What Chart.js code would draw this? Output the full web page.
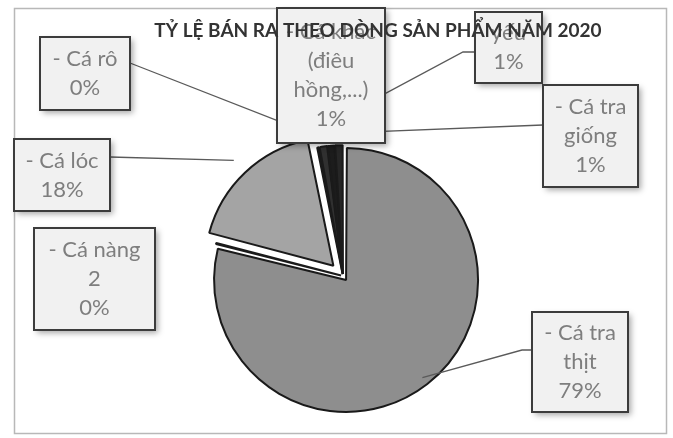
<!DOCTYPE html>
<html><head><meta charset="utf-8">
<script src="https://cdn.jsdelivr.net/npm/chart.js@4.4.1/dist/chart.umd.min.js"></script>
<style>html,body{margin:0;padding:0;background:#fff;}#wrap{width:673px;height:438px;position:relative;}</style>
</head><body><div id="wrap"><canvas id="c"></canvas></div>
<script>
// ---- data ----
const TITLE = "TỶ LỆ BÁN RA THEO DÒNG SẢN PHẨM NĂM 2020";
const categories = [
  ["- Cá tra", "thịt"],
  ["- Cá nàng", "2"],
  ["- Cá lóc"],
  ["- Cá rô"],
  ["- Cá khác", "(điêu", "hồng,...)"],
  ["yếu"],
  ["- Cá tra", "giống"]
];
const shares = [78.9, 0.2, 17.7, 0.3, 1.0, 0.9, 1.0];

// ---- styles / layout ----
const sliceColors = ["#8e8e8e", "#9c9c9c", "#a4a4a4", "#3e3e3e", "#303030", "#1c1c1c", "#262626"];
const sliceOffsets = [20, 8, 56, 8, 8, 8, 8];
// label boxes: x, y, w, h ; anchor = where the leader line leaves the box (null = no line)
const labelBoxes = [
  {x: 532, y: 312, w: 96, h: 100, ax: 532, ay: 350, stub: 10, extra: -8},
  {x: 34, y: 228, w: 121, h: 102, ax: null},
  {x: 14, y: 139, w: 96, h: 72, ax: 110, ay: 157, extra: 4},
  {x: 40, y: 37, w: 90, h: 73, ax: 130, ay: 63, extra: 12},
  {x: 277, y: 8, w: 108, h: 135, ax: null},
  {x: 475, y: 12, w: 67, h: 71, ax: 475, ay: 52, stub: 12, extra: 22},
  {x: 543, y: 85, w: 95, h: 102, ax: 543, ay: 125, extra: 12}
];
const LABEL_FONT = "22px Lato, 'Open Sans', sans-serif";
const LINE_H = 29;

const total = shares.reduce((a, b) => a + b, 0);

const labelPlugin = {
  id: 'labels',
  beforeDraw(chart) {
    const ctx = chart.ctx;
    ctx.save();
    ctx.fillStyle = '#fff';
    ctx.fillRect(0, 0, chart.width, chart.height);
    ctx.strokeStyle = '#b8b8b8';
    ctx.lineWidth = 1.5;
    ctx.strokeRect(14.5, 8.5, 652, 425);
    ctx.restore();
  },
  afterDraw(chart) {
    const ctx = chart.ctx;
    const meta = chart.getDatasetMeta(0);
    ctx.save();
    // leader lines
    ctx.strokeStyle = '#5a5a5a';
    ctx.lineWidth = 1.3;
    labelBoxes.forEach((b, i) => {
      if (b.ax === null) return;
      const el = meta.data[i];
      const p = el.getProps(['x', 'y', 'startAngle', 'endAngle', 'outerRadius']);
      const mid = (p.startAngle + p.endAngle) / 2;
      const off = (sliceOffsets[i] || 0) / 4;
      const r = p.outerRadius + off + b.extra;
      const tx = p.x + Math.cos(mid) * (r + off);
      const ty = p.y + Math.sin(mid) * (r + off);
      ctx.beginPath();
      ctx.moveTo(b.ax, b.ay);
      if (b.stub) ctx.lineTo(b.ax - b.stub, b.ay);
      ctx.lineTo(tx, ty);
      ctx.stroke();
    });
    // boxes
    labelBoxes.forEach((b, i) => {
      ctx.save();
      ctx.shadowColor = 'rgba(0,0,0,0.35)';
      ctx.shadowBlur = 6;
      ctx.shadowOffsetX = 3;
      ctx.shadowOffsetY = 3;
      ctx.fillStyle = '#f1f1f1';
      ctx.fillRect(b.x, b.y, b.w, b.h);
      ctx.restore();
      ctx.strokeStyle = '#3c3c3c';
      ctx.lineWidth = 2;
      ctx.strokeRect(b.x, b.y, b.w, b.h);
      const lines = categories[i].concat([Math.round(shares[i] / total * 100) + '%']);
      ctx.fillStyle = '#7e7e7e';
      ctx.font = LABEL_FONT;
      ctx.textAlign = 'center';
      ctx.textBaseline = 'middle';
      const cx = b.x + b.w / 2;
      const y0 = b.y + b.h / 2 - (lines.length - 1) * LINE_H / 2;
      lines.forEach((t, k) => ctx.fillText(t, cx, y0 + k * LINE_H));
    });
    // title
    ctx.font = "bold 19px Lato, 'Open Sans', sans-serif";
    ctx.fillStyle = '#333333';
    ctx.textAlign = 'center';
    ctx.textBaseline = 'middle';
    ctx.fillText(TITLE, 378, 31);
    ctx.restore();
  }
};

new Chart(document.getElementById('c'), {
  type: 'pie',
  data: {
    labels: categories,
    datasets: [{
      data: shares,
      backgroundColor: sliceColors,
      borderColor: '#1a1a1a',
      borderWidth: 2,
      offset: sliceOffsets,
      hoverOffset: 0,
      clip: false
    }]
  },
  options: {
    responsive: true,
    maintainAspectRatio: false,
    animation: false,
    radius: 127,
    layout: {padding: {left: 200, right: 187, top: 130, bottom: 16}},
    plugins: {legend: {display: false}, tooltip: {enabled: false}, title: {display: false}}
  },
  plugins: [labelPlugin]
});
</script>
</body></html>
